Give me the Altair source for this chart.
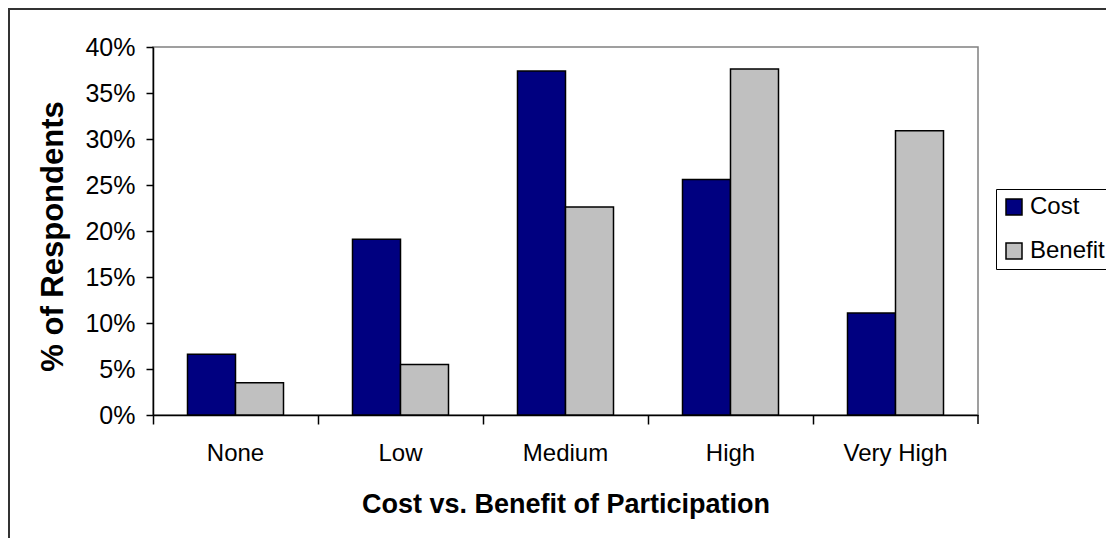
import altair as alt
import pandas as pd

categories = ["None", "Low", "Medium", "High", "Very High"]
series = ["Cost", "Benefit"]
cost = [6.6, 19.1, 37.4, 25.6, 11.1]
benefit = [3.5, 5.5, 22.6, 37.6, 30.9]
colors = ["#000080", "#C0C0C0"]
y_ticks = [0, 5, 10, 15, 20, 25, 30, 35, 40]

rows = []
for c, v in zip(categories, cost):
    rows.append({"category": c, "series": "Cost", "value": v})
for c, v in zip(categories, benefit):
    rows.append({"category": c, "series": "Benefit", "value": v})
df = pd.DataFrame(rows)

W, H = 825, 368
FONT = "Liberation Sans"

bars = alt.Chart(df).mark_bar(stroke="black", strokeWidth=1.5).encode(
    x=alt.X(
        "category:N",
        sort=categories,
        scale=alt.Scale(paddingInner=0, paddingOuter=0),
        axis=alt.Axis(
            title="Cost vs. Benefit of Participation",
            labelAngle=0,
            bandPosition=0,
            tickSize=9,
            tickColor="black",
            tickWidth=1.5,
            domainColor="black",
            domainWidth=1.5,
            labelPadding=36,
            labelBaseline="alphabetic",
            labelFont=FONT,
            labelFontSize=24,
            labelColor="black",
            titleFont=FONT,
            titleFontSize=27,
            titleFontWeight="bold",
            titleColor="black",
            titleX=W / 2,
            titleY=97,
            titleAlign="center",
            titleBaseline="alphabetic",
            grid=False,
        ),
    ),
    xOffset=alt.XOffset(
        "series:N", sort=series, scale=alt.Scale(paddingInner=0, paddingOuter=0.71875)
    ),
    y=alt.Y(
        "value:Q",
        scale=alt.Scale(domain=[0, 40], nice=False),
        axis=alt.Axis(
            values=y_ticks,
            labelExpr="datum.value + '%'",
            title="% of Respondents",
            tickSize=7,
            tickColor="black",
            tickWidth=1.5,
            domainColor="black",
            domainWidth=1.5,
            labelPadding=11,
            labelFont=FONT,
            labelFontSize=25,
            labelColor="black",
            titleFont=FONT,
            titleFontSize=31,
            titleFontWeight="bold",
            titleColor="black",
            titleAngle=270,
            titleX=-100,
            titleY=189,
            titleAlign="center",
            titleBaseline="middle",
            grid=False,
        ),
    ),
    color=alt.Color(
        "series:N",
        sort=series,
        scale=alt.Scale(domain=series, range=colors),
        legend=alt.Legend(
            title=None,
            orient="none",
            legendX=843,
            legendY=142,
            symbolType="square",
            symbolSize=256,
            symbolStrokeColor="black",
            symbolStrokeWidth=1.5,
            labelFont=FONT,
            labelFontSize=24,
            labelColor="black",
            labelOffset=4,
            rowPadding=20,
            padding=6,
            strokeColor="black",
            fillColor="white",
        ),
    ),
)

border = alt.Chart(alt.Data(values=[{}])).mark_rect(
    fill="white", fillOpacity=0, stroke="#333333", strokeWidth=2
).encode(
    x=alt.value(-144), x2=alt.value(1300), y=alt.value(-38), y2=alt.value(800)
)

end_tick = alt.Chart(alt.Data(values=[{}])).mark_rule(color="black", strokeWidth=1.5).encode(
    x=alt.value(W), y=alt.value(H), y2=alt.value(H + 9)
)

chart = alt.layer(border, bars, end_tick).properties(
    width=W,
    height=H,
    padding={"left": 145, "top": 39, "right": 128, "bottom": 123},
    autosize=alt.AutoSizeParams(type="none"),
    background="white",
).configure_view(stroke="#808080", strokeWidth=1.5)

chart.save("out.html", embed_options={"renderer": "svg", "actions": False})
